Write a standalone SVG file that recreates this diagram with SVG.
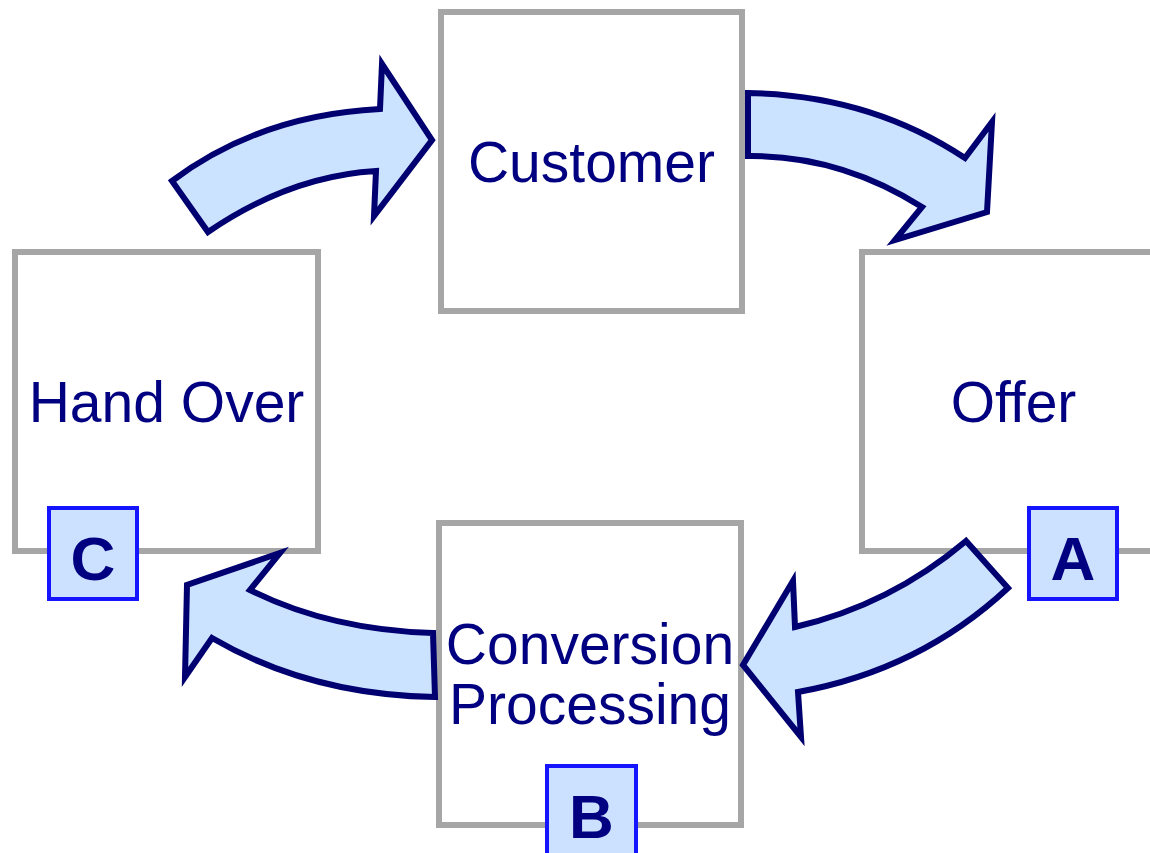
<svg xmlns="http://www.w3.org/2000/svg" width="1150" height="853" viewBox="0 0 1150 853">
<style>
.box{fill:#ffffff;stroke:#a6a6a6;stroke-width:6}
.lbl{font-family:"Liberation Sans",Arial,sans-serif;font-size:57px;fill:#000080;text-anchor:middle}
.tag{fill:#cce0ff;stroke:#1414ff;stroke-width:4}
.tagt{font-family:"Liberation Sans",Arial,sans-serif;font-size:62px;font-weight:bold;fill:#000080;text-anchor:middle}
.arr{fill:#cce3ff;stroke:#000070;stroke-width:6;stroke-linejoin:miter}
</style>
<rect width="1150" height="853" fill="#ffffff"/>
<g id="customer">
<rect class="box" x="441" y="12" width="301" height="299"/>
<text class="lbl" x="591.5" y="182">Customer</text>
</g>
<g id="handover">
<rect class="box" x="15" y="252" width="303" height="299"/>
<text class="lbl" x="166.5" y="422">Hand Over</text>
</g>
<g id="offer">
<rect class="box" x="862" y="252" width="303" height="299"/>
<text class="lbl" x="1013.5" y="422">Offer</text>
</g>
<g id="conversion">
<rect class="box" x="439" y="523" width="302" height="302"/>
<text class="lbl" x="590" y="664">Conversion</text>
<text class="lbl" x="590" y="724">Processing</text>
</g>
<g id="connectors">
<path class="arr" d="M172,181 Q260,115 380,109 L382,64 L432,140 L374,216 L376,171 Q290,176 208,232 Z"/>
<path class="arr" d="M748,93 Q870,95 965,158 L992,122 L987,212 L895,240 L922,207 Q840,155 748,156 Z"/>
<path class="arr" d="M966,541 Q890,605 795,627 L793,581 L743,665 L801,737 L798,692 Q920,670 1008,588 Z"/>
<path class="arr" d="M433,633 Q330,630 250,590 L280,553 L187,585 L185,677 L212,638 Q310,695 435,697 Z"/>
</g>
<g id="tagA">
<rect class="tag" x="1029" y="508" width="88" height="91"/>
<text class="tagt" x="1073" y="580">A</text>
</g>
<g id="tagB">
<rect class="tag" x="547" y="766" width="89" height="95"/>
<text class="tagt" x="591.5" y="838">B</text>
</g>
<g id="tagC">
<rect class="tag" x="49" y="508" width="88" height="91"/>
<text class="tagt" x="93" y="580">C</text>
</g>
</svg>
